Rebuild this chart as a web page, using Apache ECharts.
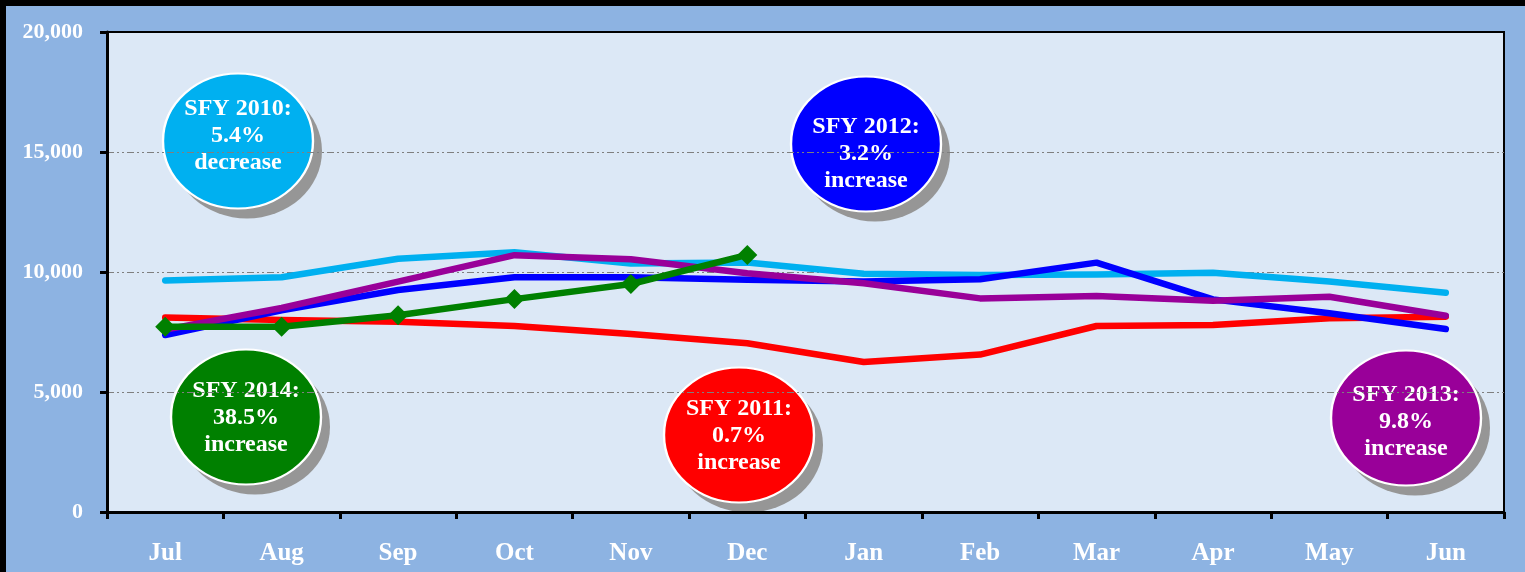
<!DOCTYPE html>
<html>
<head>
<meta charset="utf-8">
<script src="https://cdn.jsdelivr.net/npm/echarts@6/dist/echarts.min.js"></script>
<style>
  html, body { margin: 0; padding: 0; background: #8db3e2; overflow: hidden; }
  #chart { width: 1525px; height: 572px; }
</style>
</head>
<body>
<div id="chart"></div>
<script>
const months = ["Jul", "Aug", "Sep", "Oct", "Nov", "Dec", "Jan", "Feb", "Mar", "Apr", "May", "Jun"]
const sfy2010 = [9650, 9780, 10550, 10820, 10350, 10400, 9930, 9880, 9900, 9970, 9600, 9140]
const sfy2011 = [8100, 8000, 7930, 7750, 7420, 7030, 6250, 6560, 7750, 7790, 8070, 8140]
const sfy2012 = [7375, 8400, 9250, 9780, 9780, 9680, 9600, 9700, 10390, 8860, 8280, 7625]
const sfy2013 = [7600, 8500, 9600, 10700, 10530, 9950, 9530, 8900, 9000, 8800, 8970, 8180]
const sfy2014 = [7720, 7720, 8200, 8870, 9500, 10710, null, null, null, null, null, null]
const yTicks = [0, 5000, 10000, 15000, 20000]

const serif = '"Liberation Serif", "DejaVu Serif", serif'

// callout bubbles: [centre x, centre y, text y, colour, text]
const bubbles = [
  [238, 141, 136, "#00b0f0", "SFY 2010:\n5.4%\ndecrease"],
  [866, 144, 154, "#0000ff", "SFY 2012:\n3.2%\nincrease"],
  [246, 417, 418, "#008000", "SFY 2014:\n38.5%\nincrease"],
  [739, 435, 436, "#ff0000", "SFY 2011:\n0.7%\nincrease"],
  [1406, 418, 422, "#990099", "SFY 2013:\n9.8%\nincrease"]
]

function bubbleGroup(b) {
  const [cx, cy, ty, color, text] = b
  return {
    type: "group",
    z: 100,
    children: [
      { type: "circle", x: cx + 9, y: cy + 10, scaleY: 0.9, shape: { cx: 0, cy: 0, r: 75 }, style: { fill: "#969696" } },
      { type: "circle", x: cx, y: cy, scaleY: 0.9, shape: { cx: 0, cy: 0, r: 75 }, style: { fill: color, stroke: "#fff", lineWidth: 2.4 } },
      {
        type: "text", x: cx, y: ty,
        style: {
          text, fill: "#fff", font: "bold 24px " + serif,
          textAlign: "center", textVerticalAlign: "middle", lineHeight: 27
        }
      }
    ]
  }
}

function lineSeries(name, color, data) {
  return {
    name, type: "line", data,
    showSymbol: false, symbol: "none",
    lineStyle: { color, width: 6.5, cap: "round", join: "round" },
    itemStyle: { color },
    animation: false
  }
}

const chart = echarts.init(document.getElementById("chart"))

chart.setOption({
  animation: false,
  backgroundColor: "#8db3e2",
  grid: {
    left: 107, right: 21, top: 32, bottom: 60,
    show: true, backgroundColor: "#dce8f6", borderColor: "#000", borderWidth: 2
  },
  xAxis: [
    {
      type: "category",
      data: months,
      boundaryGap: true,
      axisLine: { lineStyle: { color: "#000", width: 3 } },
      axisTick: { show: true, alignWithLabel: false, length: 7, lineStyle: { color: "#000", width: 3 } },
      axisLabel: { color: "#fff", fontFamily: serif, fontWeight: "bold", fontSize: 25, margin: 29 },
      splitLine: { show: false }
    },
    {
      // solid frame line along the top of the plot
      type: "category",
      data: months,
      position: "top",
      z: 10,
      axisLine: { show: true, lineStyle: { color: "#000", width: 2 } },
      axisTick: { show: false },
      axisLabel: { show: false },
      splitLine: { show: false }
    }
  ],
  yAxis: {
    type: "value",
    min: yTicks[0],
    max: yTicks[yTicks.length - 1],
    interval: 5000,
    axisLine: { show: true, lineStyle: { color: "#000", width: 3 } },
    axisTick: { show: true, length: 7, lineStyle: { color: "#000", width: 3 } },
    axisLabel: {
      color: "#fff", fontFamily: serif, fontWeight: "bold", fontSize: 22, margin: 24,
      formatter: v => v.toLocaleString("en-US")
    },
    splitLine: { show: true, lineStyle: { color: "#7f7f7f", width: 1, type: [7, 3, 2, 3, 2, 3] } }
  },
  series: [
    lineSeries("SFY 2010", "#00b0f0", sfy2010),
    lineSeries("SFY 2011", "#ff0000", sfy2011),
    lineSeries("SFY 2012", "#0000ff", sfy2012),
    lineSeries("SFY 2013", "#990099", sfy2013),
    Object.assign(lineSeries("SFY 2014", "#008000", sfy2014), {
      showSymbol: true, symbol: "diamond", symbolSize: 20
    })
  ],
  graphic: [
    { type: "rect", z: 200, shape: { x: 0, y: 0, width: 1525, height: 6 }, style: { fill: "#000" } },
    { type: "rect", z: 200, shape: { x: 0, y: 0, width: 6, height: 572 }, style: { fill: "#000" } }
  ].concat(bubbles.map(bubbleGroup))
})
</script>
</body>
</html>
